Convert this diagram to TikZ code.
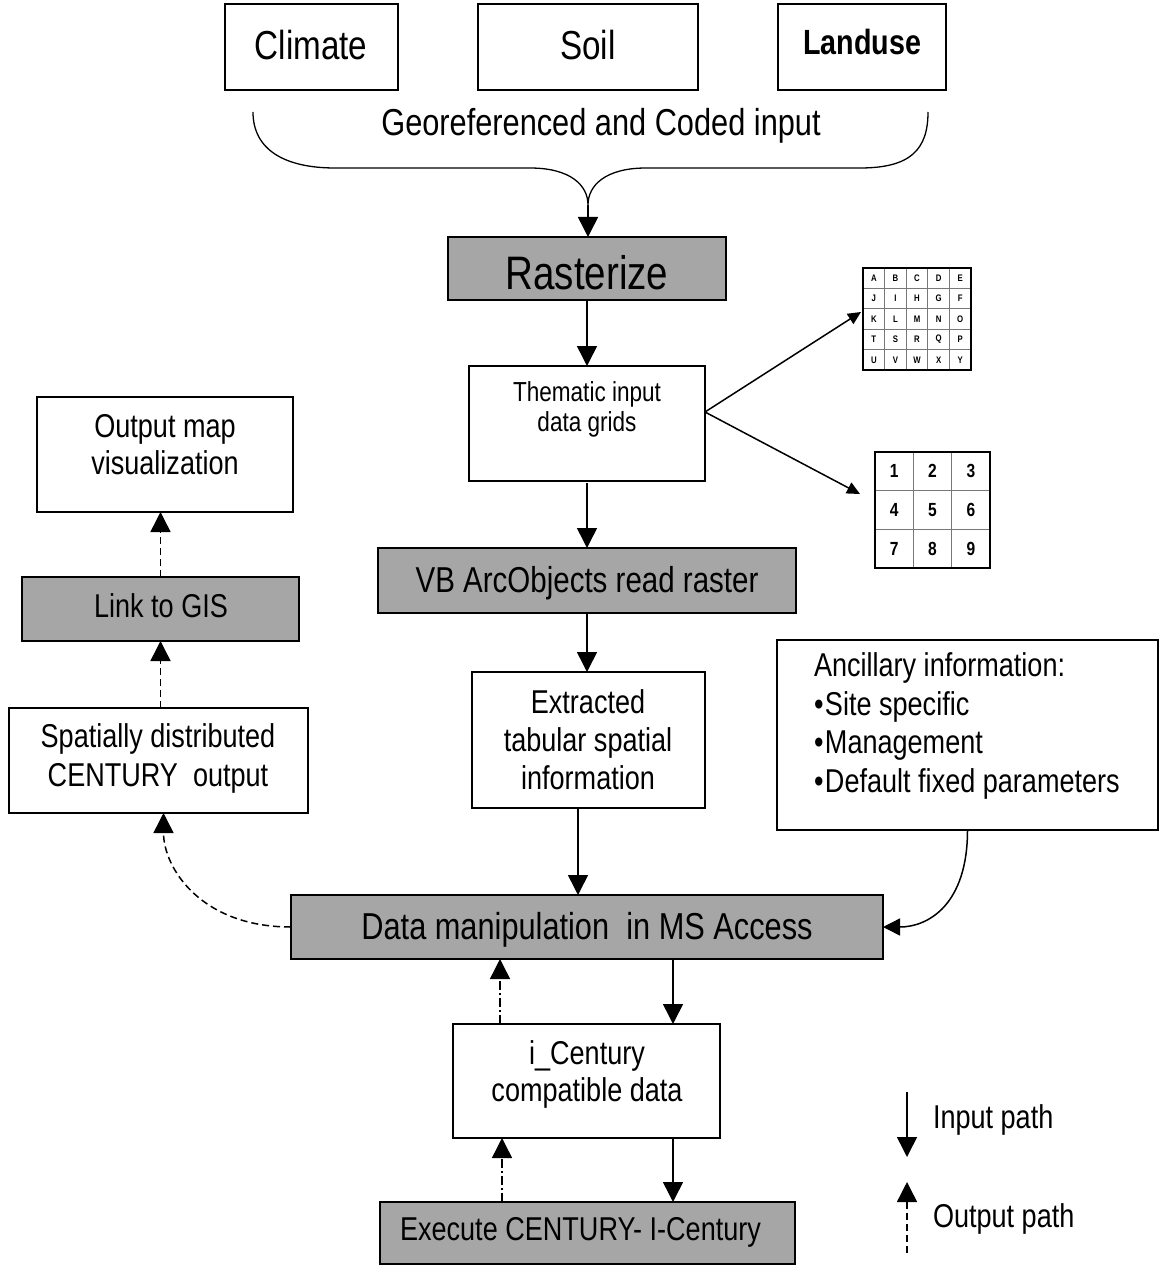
\documentclass[tikz,border=0pt]{standalone}
\usepackage{fontspec}
\setmainfont{Liberation Sans}[FakeStretch=0.82]
\usetikzlibrary{arrows.meta,calc}
\definecolor{boxgray}{RGB}{166,166,166}
\definecolor{gridgray}{RGB}{120,120,120}
\newcommand\fsz[2]{\fontsize{#1pt}{#2pt}\selectfont}
\newcommand\bul{\textbullet\kern1.5pt}
\begin{document}
\begin{tikzpicture}[x=1pt,y=-1pt,
  box/.style={draw, line width=1.3pt, fill=white, inner sep=0pt, outer sep=0pt},
  gbox/.style={box, fill=boxgray},
  txt/.style={inner sep=0pt, outer sep=0pt, align=center},
  inarr/.style={line width=1.5pt, -{Triangle[length=20pt,width=20pt]}},
  outarr/.style={line width=1.5pt, dash pattern=on 7pt off 4pt, -{Triangle[length=20pt,width=20pt]}},
  dotarr/.style={line width=1.5pt, dash pattern=on 9pt off 3pt on 2pt off 3pt, -{Triangle[length=20pt,width=20pt]}},
  smallarr/.style={line width=1.5pt, -{Triangle[length=13pt,width=12pt]}},
]
\useasboundingbox[fill=white] (0,0) rectangle (1159,1265);

% ---- boxes ----
\node[box, minimum width=173, minimum height=86] (climate) at (311.5,47) {};
\node[box, minimum width=220, minimum height=86] (soil) at (588,47) {};
\node[box, minimum width=168, minimum height=86] (landuse) at (862,47) {};
\node[gbox, minimum width=278, minimum height=63] (raster) at (587,268.5) {};
\node[box, minimum width=236, minimum height=115] (them) at (587,423.5) {};
\node[gbox, minimum width=418, minimum height=65] (vb) at (587,580.5) {};
\node[box, minimum width=233, minimum height=136] (extr) at (588.5,740) {};
\node[gbox, minimum width=592, minimum height=64] (dm) at (587,927) {};
\node[box, minimum width=381, minimum height=190] (anc) at (967.5,735) {};
\node[box, minimum width=299, minimum height=105] (spat) at (158.5,760.5) {};
\node[gbox, minimum width=277, minimum height=64] (gis) at (160.5,609) {};
\node[box, minimum width=256, minimum height=115] (omap) at (165,454.5) {};
\node[box, minimum width=267, minimum height=114] (icent) at (586.5,1081) {};
\node[gbox, minimum width=415, minimum height=62] (exec) at (587.5,1233) {};

% ---- texts ----
\node[txt, font=\fsz{40.5}{48}] (tclim) at (311,45) {Climate};
\node[txt, font=\fsz{40.5}{48}] (tsoil) at (588,45) {Soil};
\node[txt, font=\bfseries\fsz{35}{42}] (tland) at (862,42) {Landuse};
\node[txt, font=\fsz{37.5}{44}, anchor=base] (tgeo) at (601,136) {Georeferenced and Coded input};
\node[txt, font=\fsz{47}{55}, anchor=base] (traster) at (587,289) {Rasterize};
\node[txt, font=\fsz{27.5}{30}, anchor=north] (tthem) at (587,382) {Thematic input\\data grids};
\node[txt, font=\fsz{36}{42}, anchor=base] (tvb) at (587,592) {VB ArcObjects read raster};
\node[txt, font=\fsz{33}{38}, anchor=north] (textr) at (588,690) {Extracted\\tabular spatial\\information};
\node[txt, font=\fsz{37.5}{44}, anchor=base] (tdm) at (587,939) {Data manipulation\ \ in MS Access};
\node[txt, font=\fsz{33}{38.5}, anchor=north west, align=left] (tanc) at (814,653) {Ancillary information:\\\bul Site specific\\\bul Management\\\bul Default fixed parameters};
\node[txt, font=\fsz{33}{39}, anchor=north] (tspat) at (158,724) {Spatially distributed\\CENTURY\ \ output};
\node[txt, font=\fsz{33}{38}, anchor=base] (tgis) at (161,617) {Link to GIS};
\node[txt, font=\fsz{33}{37}, anchor=north] (tomap) at (165,414) {Output map\\visualization};
\node[txt, font=\fsz{33}{37}, anchor=north] (ticent) at (587,1041) {i\_Century\\compatible data};
\node[txt, font=\fsz{33}{38}, anchor=base] (texec) at (580.5,1240) {Execute CENTURY- I-Century};

% ---- grids ----
\node[fill=white, minimum width=108, minimum height=102, inner sep=0pt, outer sep=0pt] (g1) at (917,319) {};
\foreach \i in {1,...,4} {
  \draw[gridgray, line width=1.2pt] ($(g1.north west)+(\i*21.6,0)$) -- ++(0,102);
  \draw[gridgray, line width=1.2pt] ($(g1.north west)+(0,\i*20.4)$) -- ++(108,0);
}
\draw[line width=1.1pt] (g1.north west) rectangle (g1.south east);
\foreach \row [count=\r from 0] in {{A,B,C,D,E},{J,I,H,G,F},{K,L,M,N,O},{T,S,R,Q,P},{U,V,W,X,Y}} {
  \foreach \l [count=\c from 0] in \row {
    \node[txt, font=\bfseries\fsz{9.5}{10}] (g1-\r-\c) at ($(g1.north west)+(\c*21.6+10.8,\r*20.4+10.2)$) {\l};
  }
}
\node[fill=white, minimum width=115, minimum height=116, inner sep=0pt, outer sep=0pt] (g2) at (932.5,510) {};
\foreach \i in {1,2} {
  \draw[gridgray, line width=1.2pt] ($(g2.north west)+(\i*38.33,0)$) -- ++(0,116);
  \draw[gridgray, line width=1.2pt] ($(g2.north west)+(0,\i*38.67)$) -- ++(115,0);
}
\draw[line width=1.1pt] (g2.north west) rectangle (g2.south east);
\foreach \n [count=\k from 0] in {1,...,9} {
  \pgfmathtruncatemacro\rr{int(\k/3)}
  \pgfmathtruncatemacro\cc{mod(\k,3)}
  \node[txt, font=\bfseries\fsz{19}{22}] (g2-\n) at ($(g2.north west)+(\cc*38.33+19.2,\rr*38.67+19.3)$) {\n};
}

% ---- brace ----
\coordinate (bl) at (253,112);
\coordinate (bt) at (588,205);
\coordinate (br) at (928,112);
\draw[line width=1.3pt] (bl) .. controls (253,150) and (285,168) .. (335,168) -- (530,168)
  .. controls (570,168) and (588,185) .. (bt)
  .. controls (588,185) and (606,168) .. (646,168) -- (860,168)
  .. controls (910,168) and (928,150) .. (br);

% ---- connectors ----
\draw[inarr] (bt) -- (bt |- raster.north);
\draw[inarr] (raster.south) -- (them.north);
\draw[inarr] ([yshift=-2pt]them.south) -- (vb.north);
\draw[inarr] (vb.south) -- (vb.south |- extr.north);
\coordinate (e1) at ($(extr.south)+(-10.5,0)$);
\draw[inarr] (e1) -- (e1 |- dm.north);
\draw[line width=1.5pt, -{Triangle[length=17pt,width=17pt]}] (anc.south) .. controls +(0,75) and +(45,0) .. (dm.east);
\coordinate (s1) at ($(spat.south)+(5,0)$);
\draw[outarr] (dm.west) .. controls +(-90,0) and +(0,55) .. (s1);
\draw[outarr] (gis.south |- spat.north) -- (gis.south);
\draw[outarr] (gis.north) -- (gis.north |- omap.south);
\coordinate (d1) at ($(dm.south)+(86,0)$);
\draw[inarr] (d1) -- (d1 |- icent.north);
\coordinate (u1) at ($(icent.north)+(-86.5,0)$);
\draw[dotarr] (u1) -- (u1 |- dm.south);
\coordinate (d2) at ($(icent.south)+(86.5,0)$);
\draw[inarr] (d2) -- (d2 |- exec.north);
\coordinate (u2) at ($(exec.north)+(-85.5,0)$);
\draw[dotarr] (u2) -- (u2 |- icent.south);
\coordinate (tj) at (them.east |- 0,412);
\draw[smallarr] (tj) -- ($(g1.west)+(-2,-7)$);
\draw[smallarr] (tj) -- ($(g2.west)+(-15,-16)$);

% ---- legend ----
\coordinate (li1) at (907,1092);
\coordinate (li2) at (907,1157);
\draw[inarr] (li1) -- (li2);
\coordinate (lo1) at (907,1253);
\coordinate (lo2) at (907,1182);
\draw[outarr] (lo1) -- (lo2);
\node[txt, font=\fsz{33}{38}, anchor=base west] (lin) at (933,1128) {Input path};
\node[txt, font=\fsz{33}{38}, anchor=base west] (lout) at (933,1227) {Output path};
\end{tikzpicture}
\end{document}
